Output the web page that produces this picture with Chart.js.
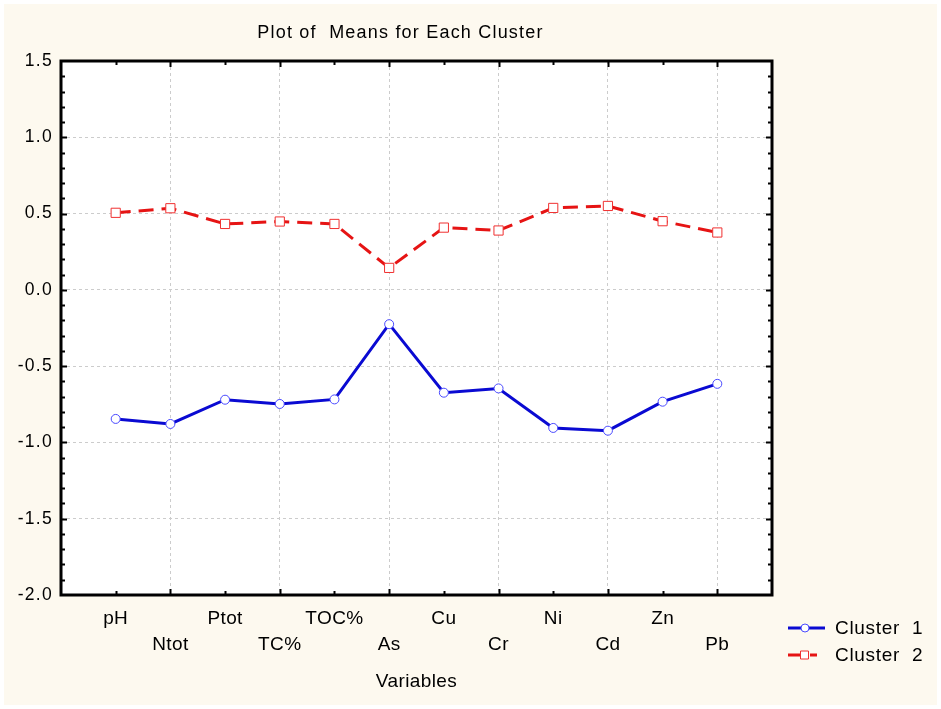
<!DOCTYPE html>
<html>
<head>
<meta charset="utf-8">
<script src="https://cdn.jsdelivr.net/npm/chart.js@4.4.1/dist/chart.umd.min.js"></script>
<style>
  html, body { margin: 0; padding: 0; background: #ffffff; }
  #wrap { width: 941px; height: 709px; }
</style>
</head>
<body>
<div id="wrap"><canvas id="c" width="941" height="709"></canvas></div>
<script>
// ---- data ----
const categories = ['pH', 'Ntot', 'Ptot', 'TC%', 'TOC%', 'As', 'Cu', 'Cr', 'Ni', 'Cd', 'Zn', 'Pb'];
const cluster1 = [-0.846, -0.879, -0.720, -0.748, -0.718, -0.225, -0.674, -0.646, -0.905, -0.923, -0.733, -0.616];
const cluster2 = [0.505, 0.535, 0.432, 0.448, 0.432, 0.144, 0.408, 0.389, 0.537, 0.550, 0.450, 0.376];
const yTickLabels = ['-2.0', '-1.5', '-1.0', '-0.5', '0.0', '0.5', '1.0', '1.5'];
const seriesNames = ['Cluster  1', 'Cluster  2'];
const chartTitle = 'Plot of  Means for Each Cluster';
const xAxisTitle = 'Variables';

const FAMILY = '"Liberation Sans", Arial, sans-serif';
const GRID = '#cccccc';
const SPACING = { x: '0.4px', y: '1.3px' };

const toPoints = arr => arr.map((v, i) => ({ x: i, y: v }));

const setLS = (ctx, v) => { try { ctx.letterSpacing = v; } catch (e) {} };

const bgPlugin = {
  id: 'bg',
  afterLayout(chart) {
    Object.keys(chart.scales).forEach(id => {
      const s = chart.scales[id];
      if (s._lsWrapped) return;
      s._lsWrapped = true;
      const sp = SPACING[id] || '0px';
      const dl = s.drawLabels, dt = s.drawTitle;
      s.drawLabels = function () { setLS(this.ctx, sp); const r = dl.apply(this, arguments); setLS(this.ctx, '0px'); return r; };
      s.drawTitle = function () { setLS(this.ctx, sp); const r = dt.apply(this, arguments); setLS(this.ctx, '0px'); return r; };
    });
  },
  beforeDraw(chart) {
    const ctx = chart.ctx, a = chart.chartArea;
    ctx.save();
    ctx.fillStyle = '#ffffff';
    ctx.fillRect(0, 0, chart.width, chart.height);
    ctx.fillStyle = '#fdf9ef';
    ctx.fillRect(4, 4, chart.width - 8, chart.height - 8);
    ctx.fillStyle = '#ffffff';
    ctx.fillRect(a.left, a.top, a.right - a.left, a.bottom - a.top);
    ctx.restore();
  }
};

const framePlugin = {
  id: 'frame',
  afterDraw(chart) {
    const ctx = chart.ctx, a = chart.chartArea;
    const xs = chart.scales.x, ys = chart.scales.y;
    ctx.save();
    ctx.strokeStyle = '#000';
    ctx.lineWidth = 2;
    ctx.setLineDash([]);
    // y ticks (inward, both sides)
    for (let k = -19; k <= 14; k++) {
      const py = Math.round(ys.getPixelForValue(k / 10)) + 0.5;
      const len = (k % 5 === 0) ? 6 : 4;
      ctx.beginPath();
      ctx.moveTo(a.left, py); ctx.lineTo(a.left + len, py);
      ctx.moveTo(a.right, py); ctx.lineTo(a.right - len, py);
      ctx.stroke();
    }
    // x ticks (inward, top and bottom)
    for (let k = 0; k < categories.length; k++) {
      const px = Math.round(xs.getPixelForValue(k)) + 0.5;
      const len = (k % 2 === 1) ? 6 : 4;
      ctx.beginPath();
      ctx.moveTo(px, a.bottom); ctx.lineTo(px, a.bottom - len);
      ctx.moveTo(px, a.top); ctx.lineTo(px, a.top + len);
      ctx.stroke();
    }
    ctx.lineWidth = 3;
    ctx.strokeRect(a.left, a.top, a.right - a.left, a.bottom - a.top);

    // title
    ctx.fillStyle = '#000';
    ctx.font = '18px ' + FAMILY;
    setLS(ctx, '1.2px');
    ctx.textAlign = 'center';
    ctx.textBaseline = 'middle';
    ctx.fillText(chartTitle, (a.left + a.right) / 2 - 16, 33);

    // legend
    ctx.font = '19px ' + FAMILY;
    setLS(ctx, '0.7px');
    ctx.textAlign = 'left';
    chart.data.datasets.forEach((ds, i) => {
      const ly = a.bottom + 33 + i * 27;
      const lx = a.right + 16;
      ctx.strokeStyle = ds.borderColor;
      ctx.lineWidth = ds.borderWidth;
      ctx.beginPath();
      if (ds.borderDash && ds.borderDash.length) {
        ctx.moveTo(lx, ly); ctx.lineTo(lx + 12, ly);
        ctx.moveTo(lx + 22, ly); ctx.lineTo(lx + 29, ly);
      } else {
        ctx.moveTo(lx, ly); ctx.lineTo(lx + 37, ly);
      }
      ctx.stroke();
      ctx.fillStyle = '#fff';
      ctx.strokeStyle = ds.pointBorderColor;
      ctx.lineWidth = 1;
      ctx.beginPath();
      if (ds.pointStyle === 'rect') {
        ctx.rect(lx + 12.5, ly - 4, 8, 8);
      } else {
        ctx.arc(lx + 17, ly, 4, 0, Math.PI * 2);
      }
      ctx.fill(); ctx.stroke();
      ctx.fillStyle = '#000';
      ctx.fillText(ds.label, a.right + 63, ly + 1);
    });
    setLS(ctx, '0px');
    ctx.restore();
  }
};

new Chart(document.getElementById('c'), {
  type: 'line',
  data: {
    datasets: [
      {
        label: seriesNames[0],
        data: toPoints(cluster1),
        borderColor: '#0a0ad2',
        borderWidth: 3,
        pointStyle: 'circle',
        pointRadius: 4.5,
        pointBackgroundColor: '#ffffff',
        pointBorderColor: '#4a4aff',
        pointBorderWidth: 1,
        tension: 0
      },
      {
        label: seriesNames[1],
        data: toPoints(cluster2),
        borderColor: '#e61414',
        borderWidth: 3,
        borderDash: [15, 8],
        pointStyle: 'rect',
        pointRadius: 6.5,
        pointBackgroundColor: '#ffffff',
        pointBorderColor: '#f03030',
        pointBorderWidth: 1,
        tension: 0
      }
    ]
  },
  options: {
    responsive: false,
    animation: false,
    devicePixelRatio: 1,
    layout: { padding: { top: 61, right: 169, left: 0, bottom: 0 } },
    plugins: {
      legend: { display: false },
      title: { display: false },
      tooltip: { enabled: false }
    },
    scales: {
      x: {
        type: 'linear',
        min: -1,
        max: 12,
        ticks: {
          stepSize: 1,
          autoSkip: false,
          maxRotation: 0,
          minRotation: 0,
          padding: 11,
          color: '#000',
          font: { family: FAMILY, size: 19, lineHeight: '26px' },
          callback: v => {
            const i = Math.round(v);
            if (i < 0 || i >= categories.length) return '';
            return i % 2 === 0 ? [categories[i], ''] : ['', categories[i]];
          }
        },
        grid: {
          drawTicks: false,
          lineWidth: 1,
          color: c => {
            const v = c.tick ? Math.round(c.tick.value) : -1;
            return (v >= 0 && v < categories.length && v % 2 === 1) ? GRID : 'rgba(0,0,0,0)';
          }
        },
        border: { display: false, dash: [3, 3] },
        title: {
          display: true,
          text: xAxisTitle,
          color: '#000',
          font: { family: FAMILY, size: 19, lineHeight: '26px' },
          padding: { top: 0, bottom: 14 }
        },
        afterFit: s => { s.height = 114; }
      },
      y: {
        type: 'linear',
        min: -2,
        max: 1.5,
        ticks: {
          stepSize: 0.5,
          padding: 8,
          color: '#000',
          font: { family: FAMILY, size: 17.5 },
          callback: (v) => {
            const idx = Math.round((v + 2) / 0.5);
            return yTickLabels[idx] !== undefined ? yTickLabels[idx] : '';
          }
        },
        grid: {
          drawTicks: false,
          lineWidth: 1,
          color: c => {
            const v = c.tick ? c.tick.value : -2;
            return (v <= -2 || v >= 1.5) ? 'rgba(0,0,0,0)' : GRID;
          }
        },
        border: { display: false, dash: [3, 3] },
        afterFit: s => { s.width = 61; }
      }
    }
  },
  plugins: [bgPlugin, framePlugin]
});
</script>
</body>
</html>
